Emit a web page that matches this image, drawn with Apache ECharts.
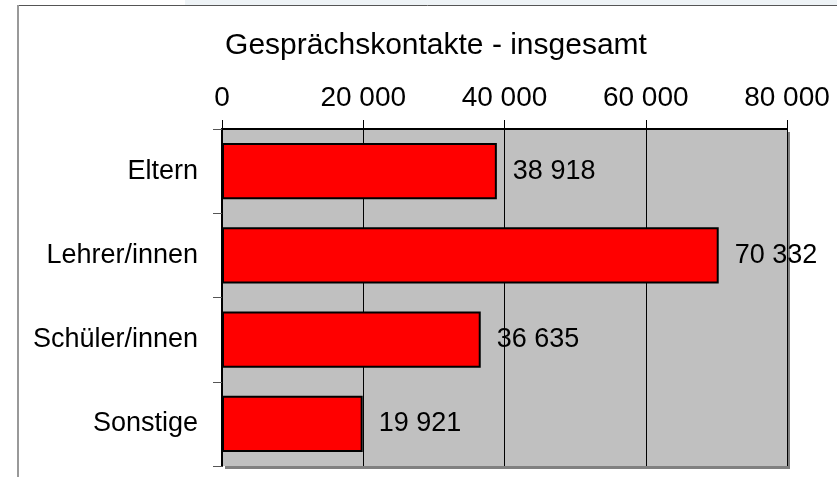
<!DOCTYPE html>
<html>
<head>
<meta charset="utf-8">
<script src="https://cdn.jsdelivr.net/npm/echarts@6/dist/echarts.min.js"></script>
<style>
  html, body { margin: 0; padding: 0; background: #fff; }
  #chart { width: 837px; height: 477px; }
</style>
</head>
<body>
<div id="chart"></div>
<script>
const categories = ['Eltern', 'Lehrer/innen', 'Schüler/innen', 'Sonstige']
const contacts = [38918, 70332, 36635, 19921]
const axisTicks = [0, 20000, 40000, 60000, 80000]

// Tausendertrennzeichen als Leerzeichen
const fmt = (v) => String(v).replace(/\B(?=(\d{3})+(?!\d))/g, ' ')

const myChart = echarts.init(document.getElementById('chart'))

const option = {
  animation: false,
  textStyle: { fontFamily: 'Liberation Sans, Arial, sans-serif' },
  title: {
    text: 'Gesprächskontakte - insgesamt',
    left: 431,
    textAlign: 'center',
    top: 26,
    textStyle: { fontSize: 30, fontWeight: 'normal', color: '#000' }
  },
  graphic: [
    { type: 'rect', shape: { x: 185, y: 0, width: 660, height: 5 }, style: { fill: '#eef3f6' }, silent: true },
    { type: 'line', shape: { x1: 18, y1: 5.5, x2: 837, y2: 5.5 }, style: { stroke: '#555', lineWidth: 1 }, silent: true },
    { type: 'line', shape: { x1: 18, y1: 5, x2: 18, y2: 477 }, style: { stroke: '#999', lineWidth: 2 }, silent: true }
  ],
  grid: {
    left: 222,
    right: 50,
    top: 129,
    bottom: 11,
    show: true,
    backgroundColor: '#c0c0c0',
    borderWidth: 0,
    shadowColor: '#808080',
    shadowBlur: 0,
    shadowOffsetX: 3,
    shadowOffsetY: 3
  },
  xAxis: {
    type: 'value',
    position: 'top',
    min: axisTicks[0],
    max: axisTicks[axisTicks.length - 1],
    interval: axisTicks[1] - axisTicks[0],
    axisLine: { show: true, lineStyle: { color: '#000', width: 2 } },
    axisTick: { show: true, length: 9, lineStyle: { color: '#000' } },
    axisLabel: { formatter: fmt, fontSize: 28, color: '#000', margin: 17 },
    splitLine: { show: true, lineStyle: { color: '#000', width: 1 } }
  },
  yAxis: {
    type: 'category',
    inverse: true,
    data: categories,
    axisLine: { show: true, lineStyle: { color: '#000', width: 2 } },
    axisTick: { show: true, length: 9, lineStyle: { color: '#555' } },
    axisLabel: { fontSize: 27, color: '#000', margin: 24 }
  },
  series: [
    {
      type: 'bar',
      data: contacts,
      barWidth: '67%',
      itemStyle: { color: '#ff0000', borderColor: '#000', borderWidth: 2 },
      label: {
        show: true,
        position: 'right',
        distance: 16,
        formatter: (p) => fmt(p.value),
        fontSize: 27,
        color: '#000'
      }
    }
  ]
}

myChart.setOption(option)
</script>
</body>
</html>
